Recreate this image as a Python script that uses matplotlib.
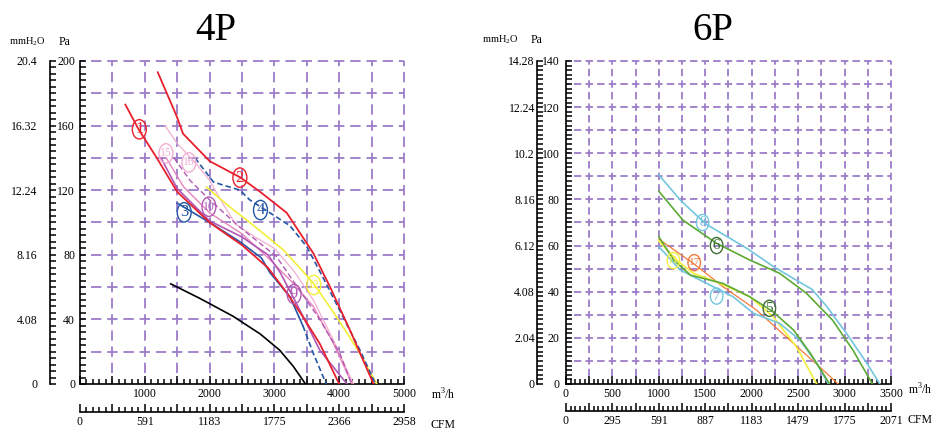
import matplotlib
matplotlib.use('Agg')
import matplotlib.pyplot as plt
from matplotlib.patches import Ellipse
from matplotlib.ticker import MultipleLocator

plt.rcParams['font.family'] = ['Liberation Serif', 'DejaVu Serif']
plt.rcParams['lines.scale_dashes'] = False
plt.rcParams['mathtext.fontset'] = 'custom'
plt.rcParams['mathtext.rm'] = 'Liberation Serif'

W, H, DPI = 953, 448, 100

# ------------------------- data: 4P -------------------------
c1_x = [700, 900, 1200, 1500, 2000, 2500, 2900, 3200, 3450, 3700, 4000]
c1_y = [173, 158, 139, 119, 100, 86, 72, 56, 41, 25, 0]
c2_x = [1200, 1490, 1590, 2000, 2470, 2780, 3190, 3600, 3860, 4170, 4530]
c2_y = [193, 166, 155, 138, 128, 119, 106, 81, 60, 33, 0]
c3_x = [1500, 1750, 2000, 2470, 2800, 2930, 3240, 3440]
c3_y = [112, 106, 100, 88, 78, 69, 54, 36]
c3t_x = [3440, 3600, 3800]
c3t_y = [36, 19, 0]
c4_x = [1775, 2060, 2470, 2620, 2930, 3240, 3500, 3750, 4060, 4320, 4560]
c4_y = [140, 125, 120, 114, 106, 98, 85, 66, 41.5, 21, 0]
c9_x = [1250, 1500, 2000, 2500, 2900, 3090, 3300, 3440, 3700, 4120]
c9_y = [140, 121, 101, 91, 80, 69, 53, 42, 21, 0]
c10_x = [1450, 1700, 2000, 2470, 3030, 3390, 3700, 4010, 4190]
c10_y = [140, 126, 114, 97, 79, 58, 40, 19, 0]
c12_x = [1950, 2300, 2620, 3140, 3600, 3960, 4320, 4580]
c12_y = [122, 110, 100, 83, 62.5, 41.5, 19, 0]
c15_x = [1330, 1600, 2000, 2500, 2930, 3300, 3600, 3900, 4200]
c15_y = [140, 122, 106, 93, 77, 62, 48, 26, 0]
c16_x = [1310, 1500, 1800, 2000, 2200, 2400, 2700, 3000, 3300, 3600, 3900, 4220]
c16_y = [160, 149, 136, 126, 112, 99, 91, 84, 70, 52, 28, 0]
blk_x = [1400, 1850, 2360, 2780, 3080, 3290, 3480]
blk_y = [62, 53, 42, 31, 21, 11, 0]

m3h_ticks_4p = [1000, 2000, 3000, 4000, 5000]
m3h_labels_4p = ['1000', '2000', '3000', '4000', '5000']
cfm_ticks_4p = [0, 1000, 2000, 3000, 4000, 5000]
cfm_labels_4p = ['0', '591', '1183', '1775', '2366', '2958']
pa_ticks_4p = [0, 40, 80, 120, 160, 200]
pa_labels_4p = ['0', '40', '80', '120', '160', '200']
mm_labels_4p = ['0', '4.08', '8.16', '12.24', '16.32', '20.4']

# ------------------------- data: 6P -------------------------
c8_x = [1000, 1230, 1500, 1730, 1960, 2230, 2480, 2650, 2810, 3020, 3240, 3380]
c8_y = [90.6, 79.8, 69.5, 64, 58.5, 51, 45, 41, 33.5, 22, 9, 0]
c6_x = [1000, 1260, 1620, 1980, 2300, 2590, 2870, 3090, 3300]
c6_y = [83.5, 71, 61, 53.7, 48, 39.3, 27.7, 14.7, 0]
c5_x = [1000, 1160, 1340, 1690, 1980, 2230, 2450, 2630, 2840]
c5_y = [63.8, 53.7, 47.2, 43.6, 37.8, 31.3, 23.4, 13.4, 0]
c7_x = [1000, 1230, 1515, 1800, 2020, 2300, 2520, 2700, 2825]
c7_y = [59.5, 49.4, 43.6, 37.8, 30.6, 26.3, 19, 9, 0]
c17_x = [1000, 1370, 1690, 2050, 2410, 2730, 2930]
c17_y = [62.8, 52.3, 42.2, 32.1, 19, 7.5, 0]
c11_x = [1000, 1190, 1370, 1620, 1980, 2230, 2480, 2700]
c11_y = [62, 53.7, 48, 44.3, 37.8, 29.2, 16.2, 0]

m3h_ticks_6p = [0, 500, 1000, 1500, 2000, 2500, 3000, 3500]
m3h_labels_6p = ['0', '500', '1000', '1500', '2000', '2500', '3000', '3500']
cfm_ticks_6p = [0, 500, 1000, 1500, 2000, 2500, 3000, 3500]
cfm_labels_6p = ['0', '295', '591', '887', '1183', '1479', '1775', '2071']
pa_ticks_6p = [0, 20, 40, 60, 80, 100, 120, 140]
pa_labels_6p = ['0', '20', '40', '60', '80', '100', '120', '140']
mm_labels_6p = ['0', '2.04', '4.08', '6.12', '8.16', '10.2', '12.24', '14.28']

RED = '#e8202c'
BLUE = '#2456a6'
YEL = '#f2ee3a'
PUR = '#b058b4'
PINK = '#e684bc'
LPINK = '#f2aed2'
LBLUE = '#72c6de'
GREEN = '#5caa34'
DGREEN = '#3e6e34'
ORANGE = '#f07a3c'
GRID = '#9c7cc8'

fig = plt.figure(figsize=(W / DPI, H / DPI), dpi=DPI)


def fx(x):
    return x / W


def fy(y):
    return 1 - y / H


def panel(l, t, r, b, xmax, ymax, xgrid, ygrid, xmajor, xminor, yminor,
          m3h_ticks, m3h_labels, cfm_ticks, cfm_labels,
          pa_ticks, pa_labels, mm_labels, mm_px, cfm_px, mm_pad, pa_pad):
    ax = fig.add_axes([fx(l), fy(b), (r - l) / W, (b - t) / H])
    ax.set_xlim(0, xmax)
    ax.set_ylim(0, ymax)
    for s in ['top', 'right']:
        ax.spines[s].set_visible(False)
    for s in ['left', 'bottom']:
        ax.spines[s].set_linewidth(1.2)
    # grid
    cw = (r - l) / (xmax / xgrid)
    ch = (b - t) / (ymax / ygrid)
    for cell, vertical in ((ch, True), (cw, False)):
        per = cell / 2 * 72 / DPI
        on = per * 0.64
        ls = (on / 2, (on, per - on))
        if vertical:
            k = xgrid
            while k <= xmax + 1e-6:
                ax.plot([k, k], [0, ymax], color=GRID, lw=1.3, ls=ls,
                        clip_on=False, zorder=1)
                k += xgrid
        else:
            k = ygrid
            while k <= ymax + 1e-6:
                ax.plot([0, xmax], [k, k], color=GRID, lw=1.3, ls=ls,
                        clip_on=False, zorder=1)
                k += ygrid
    # primary ticks
    xmaj = [i * xmajor for i in range(int(xmax / xmajor) + 1)]
    xlab = [m3h_labels[m3h_ticks.index(v)] if v in m3h_ticks else '' for v in xmaj]
    ax.set_xticks(xmaj, xlab)
    ax.xaxis.set_minor_locator(MultipleLocator(xminor))
    ax.set_yticks(pa_ticks, pa_labels)
    ax.yaxis.set_minor_locator(MultipleLocator(yminor))
    ax.tick_params(axis='x', which='major', direction='in', length=6, width=1.1,
                   pad=3, labelsize=8.5)
    ax.tick_params(axis='x', which='minor', direction='in', length=3.5, width=1.1)
    ax.tick_params(axis='y', which='both', direction='in', length=4.5, width=1.1,
                   pad=pa_pad, labelsize=8.5)
    # mmH2O axis
    sy = ax.secondary_yaxis(-(l - mm_px) / (r - l))
    sy.set_yticks(pa_ticks, mm_labels)
    sy.yaxis.set_minor_locator(MultipleLocator(yminor))
    sy.tick_params(which='both', direction='in', length=4.5, width=1.1,
                   pad=mm_pad, labelsize=8.5)
    sy.spines['left'].set_linewidth(1.2)
    # CFM axis
    sx = ax.secondary_xaxis(-(cfm_px - b) / (b - t))
    cmaj = xmaj
    clab = [cfm_labels[cfm_ticks.index(v)] if v in cfm_ticks else '' for v in cmaj]
    sx.set_xticks(cmaj, clab)
    sx.xaxis.set_minor_locator(MultipleLocator(xminor))
    sx.tick_params(which='major', direction='in', length=6, width=1.1, pad=3.5,
                   labelsize=8.5)
    sx.tick_params(which='minor', direction='in', length=3.5, width=1.1)
    sx.spines['bottom'].set_linewidth(1.2)
    return ax


def label(ax, txt, x, y, color, w, h, fs):
    ax.add_patch(Ellipse((x, y), w, h, fill=False, ec=color, lw=1.0, zorder=5))
    ax.text(x, y, txt, color=color, ha='center', va='center', fontsize=fs, zorder=6)


# ------------------------- 4P panel -------------------------
axL = panel(80, 61, 404, 384, 5000, 200, 500, 20, 500, 100, 4,
            m3h_ticks_4p, m3h_labels_4p, cfm_ticks_4p, cfm_labels_4p,
            pa_ticks_4p, pa_labels_4p, mm_labels_4p, 50, 411.5, 9, 3.5)
axL.plot(blk_x, blk_y, color='black', lw=1.2, zorder=3)
axL.plot(c16_x, c16_y, color=LPINK, lw=0.9, zorder=3)
axL.plot(c15_x, c15_y, color=PINK, lw=1.0, zorder=3)
axL.plot(c10_x, c10_y, color=PUR, lw=1.0, ls=(0, (4, 2.2)), zorder=3)
axL.plot(c9_x, c9_y, color=PUR, lw=1.2, zorder=3)
axL.plot(c12_x, c12_y, color=YEL, lw=1.2, zorder=3)
axL.plot(c3_x, c3_y, color=BLUE, lw=1.2, zorder=3)
axL.plot(c3t_x, c3t_y, color=BLUE, lw=1.2, ls=(0, (4, 2.2)), zorder=3)
axL.plot(c4_x, c4_y, color=BLUE, lw=1.2, ls=(0, (4, 2.2)), zorder=3)
axL.plot(c1_x, c1_y, color=RED, lw=1.3, zorder=4)
axL.plot(c2_x, c2_y, color=RED, lw=1.3, zorder=4)

wL, hL = 215, 12
label(axL, '1', 915, 157.7, RED, wL, hL, 12)
label(axL, '2', 2467, 127.8, RED, wL, hL, 12)
label(axL, '3', 1608, 106.3, BLUE, wL, hL, 12)
label(axL, '4', 2785, 107.7, BLUE, wL, hL, 12)
label(axL, '15', 1326, 142.8, LPINK, wL, hL, 8.5)
label(axL, '16', 1680, 137.2, LPINK, wL, hL, 8.5)
label(axL, '10', 1989, 109.8, PUR, wL, hL, 8.5)
label(axL, '9', 3304, 55.7, PUR, wL, hL, 12)
label(axL, '12', 3608, 61.3, YEL, wL, hL, 8.5)

# ------------------------- 6P panel -------------------------
axR = panel(566, 61, 891, 384, 3500, 140, 250, 10, 250, 50, 2,
            m3h_ticks_6p, m3h_labels_6p, cfm_ticks_6p, cfm_labels_6p,
            pa_ticks_6p, pa_labels_6p, mm_labels_6p, 537, 410.5, 1.5, 4.5)
axR.plot(c17_x, c17_y, color=ORANGE, lw=0.9, zorder=3)
axR.plot(c11_x, c11_y, color=YEL, lw=1.2, zorder=3)
axR.plot(c7_x, c7_y, color=LBLUE, lw=1.2, zorder=3)
axR.plot(c5_x, c5_y, color=GREEN, lw=1.2, zorder=3)
axR.plot(c6_x, c6_y, color=GREEN, lw=1.2, zorder=3)
axR.plot(c8_x, c8_y, color=LBLUE, lw=1.2, zorder=3)

wR, hR = 135, 7
label(axR, '8', 1471, 70, LBLUE, wR, hR, 10)
label(axR, '6', 1622, 60, DGREEN, wR, hR, 11)
label(axR, '17', 1381, 52.6, ORANGE, wR, hR, 8)
label(axR, '11', 1156, 53.5, YEL, wR, hR, 8)
label(axR, '7', 1622, 38.1, LBLUE, wR, hR, 11)
label(axR, '5', 2190, 32.8, DGREEN, wR, hR, 11)

# ------------------------- titles & units -------------------------
fig.text(fx(216), fy(31), '4P', fontsize=28, ha='center', va='center')
fig.text(fx(713), fy(31), '6P', fontsize=28, ha='center', va='center')
for mx, pxp, yy in ((27, 65, 42), (500, 537, 40)):
    fig.text(fx(mx), fy(yy), 'mmH$_2$O', fontsize=7.5, ha='center', va='center')
    fig.text(fx(pxp), fy(yy), 'Pa', fontsize=8.5, ha='center', va='center')
for ux, uy, cy in ((443, 395, 425), (920, 390, 420)):
    fig.text(fx(ux), fy(uy), 'm$^3$/h', fontsize=8.5, ha='center', va='center')
    fig.text(fx(ux), fy(cy), 'CFM', fontsize=8.5, ha='center', va='center')

fig.savefig('out.png', dpi=DPI)
